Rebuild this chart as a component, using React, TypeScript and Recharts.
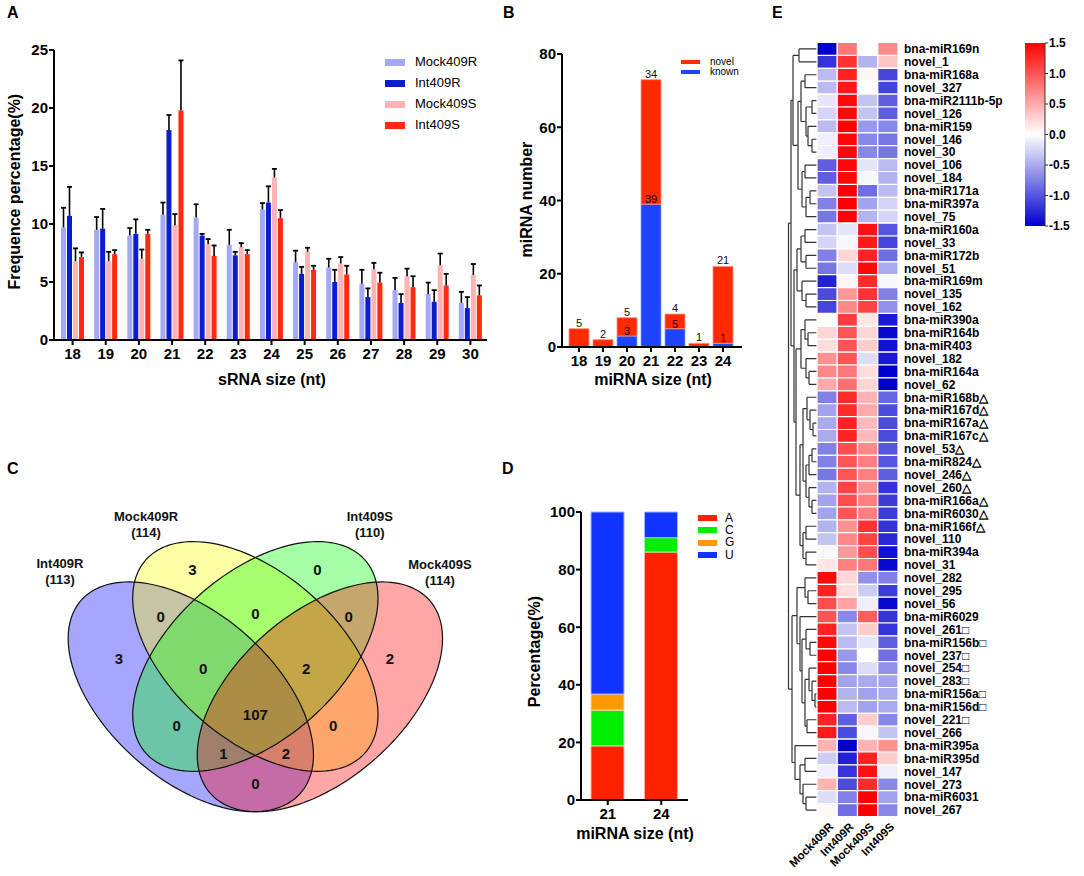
import React from 'react';
import { BarChart, Bar, XAxis, YAxis, Cell, LabelList, ScatterChart, Scatter } from 'recharts';

const FONT = '"Liberation Sans", Arial, Helvetica, sans-serif';

// ---------- Panel A data ----------
const sizesA = ['18', '19', '20', '21', '22', '23', '24', '25', '26', '27', '28', '29', '30'];
const mockR = [9.7, 9.5, 9.0, 10.8, 10.55, 8.2, 11.25, 6.7, 6.25, 4.85, 4.3, 3.95, 3.2];
const intR = [10.7, 9.6, 9.15, 18.1, 9.0, 7.3, 11.85, 5.7, 5.0, 3.7, 3.2, 3.3, 2.75];
const mockS = [6.8, 6.8, 7.0, 9.9, 8.25, 8.0, 14.0, 7.6, 6.6, 6.1, 5.5, 6.45, 5.6];
const intS = [7.15, 7.4, 9.15, 19.8, 7.25, 7.4, 10.5, 6.05, 5.65, 4.95, 4.55, 4.7, 3.85];
const mockRErr = [1.7, 1.1, 0.65, 1.05, 1.15, 1.3, 0.55, 1.0, 0.75, 1.2, 1.05, 1.0, 0.95];
const intRErr = [2.5, 1.7, 1.25, 1.3, 0.15, 0.3, 1.4, 0.6, 1.05, 0.75, 0.75, 1.0, 0.95];
const mockSErr = [1.1, 0.8, 0.8, 0.95, 0.45, 0.35, 0.75, 0.35, 0.55, 0.55, 0.65, 1.0, 0.95];
const intSErr = [0.4, 0.35, 0.35, 4.3, 0.9, 0.35, 0.7, 0.35, 0.75, 0.85, 0.95, 1.0, 0.85];
const seriesA = ['Mock409R', 'Int409R', 'Mock409S', 'Int409S'];
const colorsA = ['#a3a8f7', '#0a1ecf', '#ffb3b3', '#ff2a10'];

// ---------- Panel B data ----------
const sizesB = ['18', '19', '20', '21', '22', '23', '24'];
const knownB = [0, 0, 3, 39, 5, 0, 1];
const novelB = [5, 2, 5, 34, 4, 1, 21];

// ---------- Panel C data ----------
const setNames = ['Int409R', 'Mock409R', 'Int409S', 'Mock409S'];
const setTotals = [113, 114, 110, 114];
const regionCounts = [3, 3, 0, 2, 0, 0, 0, 0, 2, 0, 107, 0, 1, 2, 0];

// ---------- Panel D data ----------
const sizesD = ['21', '24'];
const baseA = [18.8, 86.1];
const baseC = [12.4, 5.0];
const baseG = [5.6, 0];
const baseU = [63.2, 8.9];

// ---------- Panel E data ----------
const heatCols = ['Mock409R', 'Int409R', 'Mock409S', 'Int409S'];
const heatNames = [
  'bna-miR169n', 'novel_1', 'bna-miR168a', 'novel_327', 'bna-miR2111b-5p', 'novel_126', 'bna-miR159',
  'novel_146', 'novel_30', 'novel_106', 'novel_184', 'bna-miR171a', 'bna-miR397a', 'novel_75',
  'bna-miR160a', 'novel_33', 'bna-miR172b', 'novel_51', 'bna-miR169m', 'novel_135', 'novel_162',
  'bna-miR390a', 'bna-miR164b', 'bna-miR403', 'novel_182', 'bna-miR164a', 'novel_62',
  'bna-miR168b△', 'bna-miR167d△', 'bna-miR167a△', 'bna-miR167c△', 'novel_53△', 'bna-miR824△',
  'novel_246△', 'novel_260△', 'bna-miR166a△', 'bna-miR6030△', 'bna-miR166f△', 'novel_110',
  'bna-miR394a', 'novel_31', 'novel_282', 'novel_295', 'novel_56', 'bna-miR6029', 'novel_261□',
  'bna-miR156b□', 'novel_237□', 'novel_254□', 'novel_283□', 'bna-miR156a□', 'bna-miR156d□',
  'novel_221□', 'novel_266', 'bna-miR395a', 'bna-miR395d', 'novel_147', 'novel_273', 'bna-miR6031', 'novel_267',
];
const heatVals = [
  [-1.5, 0.8, 0, 0.7], [-1.2, 1.2, -0.45, 0.35], [-0.4, 1.3, 0.05, -1.1], [-0.4, 1.35, 0, -1.1],
  [-0.15, 1.45, -0.35, -0.95], [-0.25, 1.45, -0.35, -0.95], [-0.4, 1.5, -0.6, -0.7], [-0.1, 1.45, -0.7, -0.8],
  [-0.1, 1.45, -0.7, -0.8], [-0.95, 1.45, -0.15, -0.4], [-0.95, 1.45, -0.05, -0.45], [-0.35, 1.5, -0.85, -0.4],
  [-0.75, 1.5, -0.55, -0.25], [-0.8, 1.5, -0.45, -0.25], [-0.35, -0.15, 1.4, -1.0], [-0.25, -0.05, 1.35, -1.1],
  [-0.75, 0.25, 1.3, -0.85], [-0.8, -0.2, 1.45, -0.5], [-1.3, 0.05, 1.25, -0.05], [-1.05, 0.6, 1.2, -0.75],
  [-1.1, 0.7, 1.1, -0.65], [0, 1.15, 0.15, -1.35], [0.25, 1.0, 0.25, -1.45], [0.2, 1.0, 0.3, -1.4],
  [0.65, 1.0, -0.2, -1.35], [0.7, 0.8, 0.2, -1.5], [0.5, 0.85, 0.25, -1.5], [-0.75, 1.25, 0.45, -0.9],
  [-0.55, 1.25, 0.5, -1.05], [-0.5, 1.3, 0.4, -1.05], [-0.5, 1.3, 0.4, -1.05], [-0.75, 1.05, 0.7, -1.0],
  [-0.75, 1.0, 0.75, -1.0], [-0.8, 1.0, 0.75, -0.95], [-0.45, 1.1, 0.65, -1.2], [-0.55, 1.05, 0.75, -1.15],
  [-0.55, 1.0, 0.75, -1.15], [-0.45, 0.65, 1.2, -1.2], [-0.35, 0.7, 1.1, -1.25], [-0.05, 0.6, 1.05, -1.4],
  [0.15, 0.75, 0.8, -1.45], [1.45, 0.25, -0.65, -0.75], [1.3, 0.2, -0.3, -1.15], [1.05, 0.55, -0.1, -1.45],
  [1.0, -0.7, 0.95, -1.2], [1.3, -0.35, 0.3, -1.2], [1.45, -0.4, -0.15, -0.95], [1.5, -0.6, 0, -0.85],
  [1.5, -0.7, -0.2, -0.65], [1.5, -0.55, -0.5, -0.55], [1.5, -0.45, -0.55, -0.5], [1.5, -0.4, -0.55, -0.5],
  [1.3, -0.95, 0.3, -0.7], [1.35, -1.05, -0.05, -0.35], [0.45, -1.5, 0.45, 0.65], [-0.3, -1.3, 1.3, 0.3],
  [-0.1, -1.2, 1.4, -0.1], [0.45, -1.05, 1.25, -0.7], [-0.2, -0.75, 1.5, -0.55], [0.05, -0.85, 1.5, -0.7],
];
const scaleTicks = [-1.5, -1.0, -0.5, 0, 0.5, 1.0, 1.5];

// dendrogram: [left, right, mergeHeight]; leaves are row indices
type TNode = number | [TNode, TNode, number];
const clusterI: TNode = [[0, 1, 18], [[[2, 3, 12], [[4, 5, 5], [6, [7, 8, 5], 9], 11], 16], [[9, 10, 12], [[11, 12, 7], 13, 11], 15], 19], 24];
const clusterII: TNode = [[[14, 15, 12], [16, 17, 11], 16], [18, [19, 20, 11], 15], 20];
const clusterIII: TNode = [
  [[21, [22, 23, 9], 12], [24, [25, 26, 8], 11], 16],
  [[[27, [28, [29, 30, 4], 7], 10], [[[31, 32, 5], 33, 8], [34, [35, 36, 5], 8], 11], 14], [[37, 38, 11], [39, 40, 11], 14], 17],
  21,
];
const clusterIV: TNode = [[41, [42, 43, 9], 12], [44, [[45, [46, 47, 7], 11], [[48, [49, [50, 51, 2], 5], 8], [52, 53, 10], 12], 15], 17], 20];
const clusterV: TNode = [54, [[55, 56, 12], [57, [58, 59, 11], 14], 17], 22];
const tree: TNode = [[clusterI, [clusterII, clusterIII, 23], 26], [clusterIV, clusterV, 25], 28.5];

// ---------- layout constants ----------
const ELLIPSE_A = 0.35;
const ELLIPSE_B = 0.2;
const ellipseLayout = [
  { cx: 0.35, cy: 0.47, ang: -45, color: '#0000ff' },
  { cx: 0.5, cy: 0.57, ang: -45, color: '#ffff00' },
  { cx: 0.5, cy: 0.57, ang: 45, color: '#00ff00' },
  { cx: 0.65, cy: 0.47, ang: 45, color: '#ff0000' },
];
const regionPos = [
  [0.183, 0.566], [0.354, 0.785], [0.644, 0.785], [0.813, 0.566], [0.28, 0.669], [0.5, 0.677],
  [0.717, 0.669], [0.379, 0.541], [0.618, 0.541], [0.317, 0.4], [0.5, 0.425], [0.681, 0.4],
  [0.426, 0.33], [0.571, 0.33], [0.5, 0.255],
];
const setLabelPos = [[0.046, 0.79], [0.246, 0.906], [0.766, 0.906], [0.929, 0.788]];

// ---------- derived tables ----------
const tableA = sizesA.map((s, i) => ({
  size: s, mockR: mockR[i], intR: intR[i], mockS: mockS[i], intS: intS[i],
  mockRErr: mockRErr[i], intRErr: intRErr[i], mockSErr: mockSErr[i], intSErr: intSErr[i],
}));
const tableB = sizesB.map((s, i) => ({ size: s, known: knownB[i], novel: novelB[i] }));
const tableD = sizesD.map((s, i) => ({ size: s, A: baseA[i], C: baseC[i], G: baseG[i], U: baseU[i] }));
const heatRows = heatNames.map((n) => ({ name: n, s0: 1, s1: 1, s2: 1, s3: 1 }));

function ellipsePoints(cx: number, cy: number, a: number, b: number, angDeg: number) {
  const t = (angDeg * Math.PI) / 180;
  const pts: { x: number; y: number }[] = [];
  for (let k = 0; k <= 144; k++) {
    const u = (k / 144) * 2 * Math.PI;
    const ex = a * Math.cos(u);
    const ey = b * Math.sin(u);
    pts.push({ x: cx + ex * Math.cos(t) - ey * Math.sin(t), y: cy + ex * Math.sin(t) + ey * Math.cos(t) });
  }
  return pts;
}

const dendroSegs: { x: number; y: number }[] = [];
function buildTree(node: TNode): { y: number; h: number } {
  if (typeof node === 'number') return { y: node, h: 0 };
  const [l, r, h] = node;
  const a = buildTree(l);
  const b = buildTree(r);
  dendroSegs.push({ x: a.h, y: a.y }, { x: h, y: a.y });
  dendroSegs.push({ x: b.h, y: b.y }, { x: h, y: b.y });
  dendroSegs.push({ x: h, y: a.y }, { x: h, y: b.y });
  return { y: (a.y + b.y) / 2, h };
}
buildTree(tree);

function heatColor(v: number) {
  const t = Math.min(1, Math.abs(v) / 1.5);
  const c = Math.round(255 * (1 - t));
  if (v >= 0) return `rgb(255,${c},${c})`;
  return `rgb(${c},${c},${Math.round(255 - 50 * t)})`;
}

// ---------- helpers ----------
const tickStyle = (size: number) => ({ fontSize: size, fontWeight: 700, fill: '#000', fontFamily: FONT });
const axisLine = { stroke: '#000', strokeWidth: 2 };

function Txt({ x, y, children, size = 16, weight = 700, rotate = 0, align = 'center' }: any) {
  const w = 400;
  const left = align === 'center' ? x - w / 2 : x;
  return (
    <div
      style={{
        position: 'absolute', left, top: y - size * 0.6, width: w, height: size * 1.2,
        lineHeight: `${size * 1.2}px`, fontSize: size, fontWeight: weight, textAlign: align,
        transform: rotate ? `rotate(${rotate}deg)` : undefined, whiteSpace: 'nowrap', color: '#000',
      }}
    >
      {children}
    </div>
  );
}

function LegendBox({ items, x, y, dy, sw, sh, gap, size }: any) {
  return (
    <div style={{ position: 'absolute', left: x, top: y }}>
      {items.map((it: any, i: number) => (
        <div key={i} style={{ position: 'absolute', top: i * dy, left: 0, height: 14, whiteSpace: 'nowrap' }}>
          <div style={{ position: 'absolute', left: 0, top: 7 - sh / 2, width: sw, height: sh, background: it.color }} />
          <div style={{ position: 'absolute', left: sw + gap, top: 7 - size * 0.6, lineHeight: `${size * 1.2}px`, fontSize: size, color: '#000' }}>
            {it.label}
          </div>
        </div>
      ))}
    </div>
  );
}

const errShape = (color: string, valKey: string, errKey: string) => (props: any) => {
  const { x, y, width, height, payload } = props;
  const v = payload[valKey];
  const e = payload[errKey];
  const k = v ? height / v : 0;
  const top = y - e * k;
  const cx = x + width / 2;
  return (
    <g>
      <rect x={x} y={y} width={width} height={height} fill={color} />
      <line x1={cx} x2={cx} y1={y} y2={top} stroke="#000" strokeWidth={1.6} />
      <line x1={cx - 2.5} x2={cx + 2.5} y1={top} y2={top} stroke="#000" strokeWidth={1.8} />
    </g>
  );
};

const ColTick = (props: any) => {
  const { x, y, payload } = props;
  const ax = x + 7;
  const ay = y + 3;
  const idx = Math.round(payload.value - 0.5);
  return (
    <text x={ax} y={ay} textAnchor="end" transform={`rotate(-45 ${ax} ${ay})`} fontSize={11.5} fontWeight={700} fill="#000" fontFamily={FONT}>
      {heatCols[idx]}
    </text>
  );
};

const nothing = () => <g />;

export default function App() {
  const keysA = ['mockR', 'intR', 'mockS', 'intS'];
  const errKeysA = ['mockRErr', 'intRErr', 'mockSErr', 'intSErr'];
  return (
    <div style={{ position: 'absolute', left: 0, top: 0, width: 1084, height: 876, background: '#fff', fontFamily: FONT, overflow: 'hidden' }}>
      {/* Panel labels */}
      <Txt x={7} y={13} size={16} align="left">A</Txt>
      <Txt x={503} y={13} size={16} align="left">B</Txt>
      <Txt x={7} y={469} size={16} align="left">C</Txt>
      <Txt x={502} y={469} size={16} align="left">D</Txt>
      <Txt x={772} y={13} size={16} align="left">E</Txt>

      {/* Panel A */}
      <div style={{ position: 'absolute', left: 0, top: 0 }}>
        <BarChart width={500} height={400} data={tableA} margin={{ top: 50, right: 13, left: 10, bottom: 30 }} barSize={5} barGap={1}>
          <XAxis dataKey="size" interval={0} tick={tickStyle(15)} tickLine={axisLine} axisLine={axisLine} tickSize={5} tickMargin={3} height={30} padding={{ left: 2, right: 0 }} />
          <XAxis xAxisId="top" orientation="top" dataKey="size" tick={false} tickLine={false} axisLine={axisLine} height={0} />
          <YAxis domain={[0, 25]} ticks={[0, 5, 10, 15, 20, 25]} width={44} tick={tickStyle(15)} tickLine={axisLine} axisLine={axisLine} tickSize={5} tickMargin={1} />
          <YAxis yAxisId="r" orientation="right" tick={false} tickLine={false} axisLine={axisLine} width={0} />
          {keysA.map((k, i) => (
            <Bar key={k} dataKey={k} name={seriesA[i]} fill={colorsA[i]} isAnimationActive={false} shape={errShape(colorsA[i], k, errKeysA[i])} />
          ))}
        </BarChart>
      </div>
      <LegendBox x={385} y={55} dy={21} sw={20} sh={7} gap={10} size={13} items={seriesA.map((s, i) => ({ label: s, color: colorsA[i] }))} />
      <Txt x={15} y={192} size={16} rotate={-90}>Frequence percentage(%)</Txt>
      <Txt x={272} y={380} size={16}>sRNA size (nt)</Txt>

      {/* Panel B */}
      <div style={{ position: 'absolute', left: 470, top: 0 }}>
        <BarChart width={280} height={400} data={tableB} margin={{ top: 54, right: 8, left: 52, bottom: 23 }} barSize={20}>
          <XAxis dataKey="size" interval={0} tick={tickStyle(15)} tickLine={axisLine} axisLine={axisLine} tickSize={5} tickMargin={3} height={30} padding={{ left: 5, right: 7 }} />
          <XAxis xAxisId="top" orientation="top" dataKey="size" tick={false} tickLine={false} axisLine={{ stroke: '#000', strokeWidth: 1.5 }} height={0} />
          <YAxis domain={[0, 80]} ticks={[0, 20, 40, 60, 80]} width={40} tick={tickStyle(15)} tickLine={axisLine} axisLine={axisLine} tickSize={5} tickMargin={1} />
          <YAxis yAxisId="r" orientation="right" tick={false} tickLine={false} axisLine={{ stroke: '#000', strokeWidth: 1.5 }} width={0} />
          <Bar dataKey="known" stackId="s" fill="#1f44ff" stroke="#8c9cff" strokeWidth={0.8} isAnimationActive={false}>
            <LabelList dataKey="known" position="top" offset={1} formatter={(v: any) => (v > 0 ? v : '')} style={{ fontSize: 11, fill: '#111', fontFamily: FONT }} />
          </Bar>
          <Bar dataKey="novel" stackId="s" fill="#ff2a00" stroke="#ff9080" strokeWidth={0.8} isAnimationActive={false}>
            <LabelList dataKey="novel" position="top" offset={2} style={{ fontSize: 11, fill: '#111', fontFamily: FONT }} />
          </Bar>
        </BarChart>
      </div>
      <LegendBox x={681} y={55} dy={9.5} sw={19} sh={4} gap={10} size={10} items={[{ label: 'novel', color: '#ff2a00' }, { label: 'known', color: '#1f44ff' }]} />
      <Txt x={527} y={200} size={16} rotate={-90}>miRNA number</Txt>
      <Txt x={653} y={380} size={16}>miRNA size (nt)</Txt>

      {/* Panel C: Venn */}
      <div style={{ position: 'absolute', left: 0, top: 400 }}>
        <ScatterChart width={500} height={476} margin={{ top: 83.2, right: 29.5, left: 40.2, bottom: 30.1 }}>
          <XAxis type="number" dataKey="x" domain={[0, 1]} hide />
          <YAxis type="number" dataKey="y" domain={[0.1, 1]} hide />
          {ellipseLayout.map((e, i) => (
            <Scatter
              key={'f' + i}
              data={ellipsePoints(e.cx, e.cy, ELLIPSE_A, ELLIPSE_B, e.ang)}
              shape={nothing}
              isAnimationActive={false}
              line={(p: any) => (
                <path d={p.points.map((q: any, j: number) => `${j ? 'L' : 'M'}${q.x},${q.y}`).join(' ') + 'Z'} fill={e.color} fillOpacity={0.35} stroke="none" />
              )}
            />
          ))}
          {ellipseLayout.map((e, i) => (
            <Scatter
              key={'o' + i}
              data={ellipsePoints(e.cx, e.cy, ELLIPSE_A, ELLIPSE_B, e.ang)}
              shape={nothing}
              isAnimationActive={false}
              line={(p: any) => (
                <path d={p.points.map((q: any, j: number) => `${j ? 'L' : 'M'}${q.x},${q.y}`).join(' ') + 'Z'} fill="none" stroke="#111" strokeWidth={1.2} />
              )}
            />
          ))}
          <Scatter
            data={regionCounts.map((c, i) => ({ x: regionPos[i][0], y: regionPos[i][1], v: c }))}
            isAnimationActive={false}
            shape={(p: any) => (
              <text x={p.cx} y={p.cy} textAnchor="middle" dominantBaseline="central" fontSize={15} fontWeight={700} fill="#111" fontFamily={FONT}>
                {p.payload.v}
              </text>
            )}
          />
          <Scatter
            data={setNames.map((n, i) => ({ x: setLabelPos[i][0], y: setLabelPos[i][1], n, t: setTotals[i] }))}
            isAnimationActive={false}
            shape={(p: any) => (
              <text x={p.cx} y={p.cy} textAnchor="middle" fontSize={13} fontWeight={700} fill="#111" fontFamily={FONT}>
                <tspan x={p.cx} dy={0}>{p.payload.n}</tspan>
                <tspan x={p.cx} dy={16}>({p.payload.t})</tspan>
              </text>
            )}
          />
        </ScatterChart>
      </div>

      {/* Panel D */}
      <div style={{ position: 'absolute', left: 470, top: 400 }}>
        <BarChart width={280} height={476} data={tableD} margin={{ top: 112, right: 62, left: 71, bottom: 46 }} barSize={33}>
          <XAxis dataKey="size" interval={0} tick={tickStyle(15)} tickLine={axisLine} axisLine={axisLine} tickSize={5} tickMargin={3} height={30} />
          <YAxis domain={[0, 100]} ticks={[0, 20, 40, 60, 80, 100]} width={40} tick={tickStyle(15)} tickLine={axisLine} axisLine={axisLine} tickSize={5} tickMargin={1} />
          <Bar dataKey="A" stackId="d" fill="#ff2200" stroke="#ffb0a0" strokeWidth={1} isAnimationActive={false} />
          <Bar dataKey="C" stackId="d" fill="#00ee00" stroke="#b0f0b0" strokeWidth={1} isAnimationActive={false} />
          <Bar dataKey="G" stackId="d" fill="#ff9900" stroke="#ffd8a0" strokeWidth={1} isAnimationActive={false} />
          <Bar dataKey="U" stackId="d" fill="#1033ff" stroke="#a8b4ff" strokeWidth={1} isAnimationActive={false} />
        </BarChart>
      </div>
      <LegendBox x={698} y={511} dy={12.3} sw={19} sh={6} gap={8} size={12}
        items={[{ label: 'A', color: '#ff2200' }, { label: 'C', color: '#00ee00' }, { label: 'G', color: '#ff9900' }, { label: 'U', color: '#1033ff' }]} />
      <Txt x={535} y={652} size={16} rotate={-90}>Percentage(%)</Txt>
      <Txt x={635} y={834} size={16}>miRNA size (nt)</Txt>

      {/* Panel E: dendrogram */}
      <div style={{ position: 'absolute', left: 780, top: 0 }}>
        <ScatterChart width={40} height={876} margin={{ top: 42.5, right: 3, left: 8, bottom: 59.5 }}>
          <XAxis type="number" dataKey="x" domain={[0, 29]} reversed hide />
          <YAxis type="number" dataKey="y" domain={[-0.5, 59.5]} reversed hide />
          <Scatter
            data={dendroSegs}
            shape={nothing}
            isAnimationActive={false}
            line={(p: any) => {
              let d = '';
              for (let j = 0; j + 1 < p.points.length; j += 2) {
                d += `M${p.points[j].x},${p.points[j].y}L${p.points[j + 1].x},${p.points[j + 1].y}`;
              }
              return <path d={d} fill="none" stroke="#333" strokeWidth={1.2} />;
            }}
          />
        </ScatterChart>
      </div>

      {/* Panel E: heatmap */}
      <div style={{ position: 'absolute', left: 750, top: 0 }}>
        <BarChart layout="vertical" width={334} height={876} data={heatRows} margin={{ top: 42.5, right: 6, left: 67, bottom: 9.5 }} barCategoryGap={0}>
          <XAxis type="number" domain={[0, 4]} ticks={[0.5, 1.5, 2.5, 3.5]} interval={0} axisLine={false} tickLine={false} height={50} tick={<ColTick />} />
          <YAxis type="category" dataKey="name" orientation="right" width={180} axisLine={false} tickLine={false} tickSize={4} tickMargin={2} interval={0}
            tick={{ fontSize: 12, fontWeight: 700, fill: '#000', fontFamily: FONT, textAnchor: 'start' }} />
          {[0, 1, 2, 3].map((c) => (
            <Bar key={c} dataKey={'s' + c} stackId="h" isAnimationActive={false} stroke="#fff" strokeWidth={1.2}>
              {heatVals.map((row, i) => (
                <Cell key={i} fill={heatColor(row[c])} />
              ))}
            </Bar>
          ))}
        </BarChart>
      </div>

      {/* Panel E: colour scale */}
      <div style={{ position: 'absolute', left: 1000, top: 0 }}>
        <BarChart width={84} height={260} data={[{ name: 'scale', r: [scaleTicks[0], scaleTicks[scaleTicks.length - 1]] }]} margin={{ top: 43, right: 3, left: 25, bottom: 34 }} barCategoryGap={0}>
          <defs>
            <linearGradient id="heatGrad" x1="0" y1="0" x2="0" y2="1">
              <stop offset="0%" stopColor="#ff0000" />
              <stop offset="50%" stopColor="#ffffff" />
              <stop offset="100%" stopColor="#0000cd" />
            </linearGradient>
          </defs>
          <XAxis dataKey="name" hide />
          <YAxis orientation="right" domain={[-1.5, 1.5]} ticks={scaleTicks} width={36} tickFormatter={(v: number) => v.toFixed(1)}
            axisLine={{ stroke: '#333', strokeWidth: 1 }} tickLine={{ stroke: '#333', strokeWidth: 1 }} tickSize={3} tickMargin={1}
            tick={{ fontSize: 12, fontWeight: 700, fill: '#000', fontFamily: FONT }} />
          <Bar dataKey="r" fill="url(#heatGrad)" isAnimationActive={false} />
        </BarChart>
      </div>
    </div>
  );
}
